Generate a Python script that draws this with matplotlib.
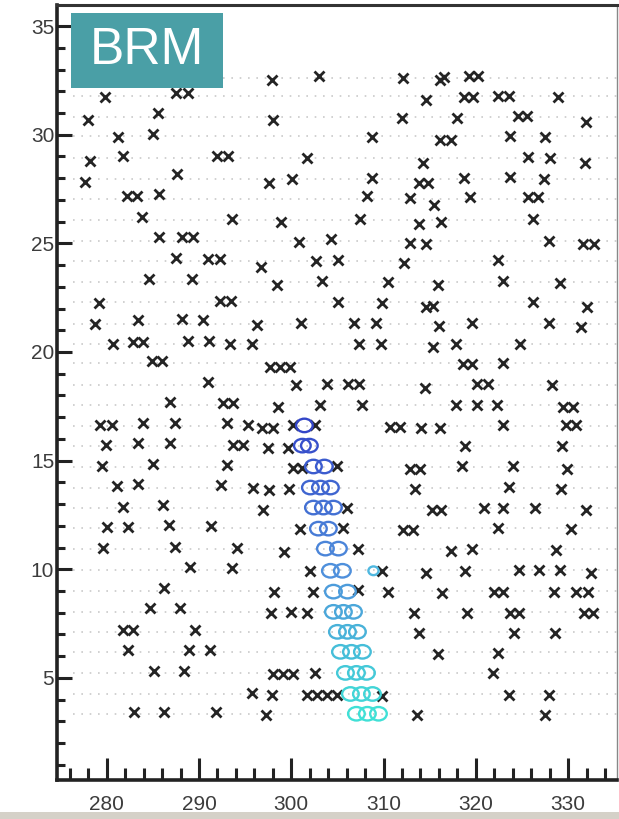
import matplotlib.pyplot as plt
from matplotlib.patches import Ellipse, Rectangle
from matplotlib.colors import LinearSegmentedColormap
from matplotlib.ticker import MultipleLocator

plt.rcParams['font.family'] = ['Liberation Sans', 'DejaVu Sans']

# wire layers (dotted rows)
layer_y = [3.34, 4.26, 5.23, 6.20, 7.12, 8.04, 9.01, 9.98, 10.94, 11.91, 12.83,
           13.76, 14.72, 15.69, 16.61, 17.58, 18.50, 19.47, 20.39, 21.31, 22.28,
           23.20, 24.17, 25.09, 26.06, 27.03, 27.95, 28.92, 29.93, 30.81, 31.77, 32.60]

# noise hits (crosses)
cross_x = [
    297.95, 303.05, 312.16, 316.17, 316.50, 319.21, 320.29,
    287.54, 288.84, 279.84, 314.65, 318.67, 319.75, 322.46, 323.55, 328.86,
    285.59, 277.99, 298.06, 312.05, 317.91, 324.52, 325.50, 331.90,
    281.25, 285.04, 308.80, 316.17, 317.26, 323.66, 327.45,
    278.21, 281.79, 291.98, 293.18, 301.75, 314.33, 325.61, 328.00, 331.79,
    277.67, 287.65, 297.63, 300.12, 308.80, 313.79, 314.87, 318.67, 323.66, 327.34,
    282.22, 283.31, 285.70, 308.26, 312.92, 315.52, 319.32, 325.61, 326.69,
    283.84, 293.61, 298.93, 307.48, 313.88, 316.27, 326.15,
    285.70, 288.19, 289.38, 300.88, 304.35, 312.92, 314.65, 327.89, 331.57, 332.77,
    287.54, 291.01, 292.31, 296.76, 302.72, 305.11, 312.27, 322.46,
    284.61, 289.27, 298.49, 303.37, 310.53, 315.85, 323.00, 329.08,
    279.19, 292.31, 293.50, 305.11, 309.88, 314.55, 315.41, 326.15, 332.01,
    278.75, 283.42, 288.19, 290.47, 296.32, 301.00, 306.85, 309.23, 316.06, 319.54, 327.89, 331.36,
    280.71, 282.88, 283.96, 288.84, 291.12, 293.40, 295.78, 307.39, 309.77, 315.41, 317.80, 324.74,
    284.94, 286.02, 297.73, 298.82, 299.90, 318.56, 319.64, 323.00,
    291.01, 300.55, 303.92, 306.19, 307.39, 314.44, 320.18, 321.27, 328.21,
    286.89, 292.64, 293.72, 298.60, 303.16, 307.71, 317.80, 320.18, 322.35, 329.40, 330.49,
    279.30, 280.60, 283.96, 287.43, 293.07, 295.35, 296.87, 298.06, 300.23, 302.62,
    310.75, 311.83, 314.11, 316.17, 322.90, 329.73, 330.81,
    279.95, 283.42, 286.89, 293.72, 294.81, 297.52, 299.69, 318.88, 329.30,
    279.51, 285.04, 293.07, 300.23, 301.21, 305.00, 312.92, 314.00, 318.45, 323.98, 329.84,
    281.14, 283.42, 292.42, 295.89, 297.63, 299.80, 313.46, 323.55, 329.19,
    281.79, 286.13, 296.98, 306.09, 315.30, 316.28, 320.84, 323.00, 326.37, 331.90,
    280.05, 282.33, 286.78, 291.34, 300.99, 305.65, 312.16, 313.14, 322.46, 330.27,
    279.62, 287.43, 294.15, 299.25, 307.28, 317.26, 319.54, 328.65,
    289.06, 293.61, 302.07, 309.88, 314.55, 318.88, 324.63, 326.80, 329.08, 332.44,
    286.24, 298.17, 302.40, 307.28, 310.53, 316.39, 321.92, 323.00, 328.43, 330.81, 332.12,
    284.72, 287.97, 297.84, 300.01, 301.75, 313.25, 319.10, 323.66, 324.63, 331.68, 332.66,
    281.79, 282.88, 289.60, 313.79, 324.09, 328.54,
    282.33, 288.95, 291.23, 315.85, 322.46,
    285.15, 288.41, 298.06, 299.14, 300.23, 302.62, 321.81,
    295.78, 297.95, 301.75, 302.83, 303.92, 305.00, 309.88, 323.55, 327.89,
    282.98, 286.24, 291.88, 297.30, 313.68, 327.45,
]
cross_y = [
    32.51, 32.70, 32.61, 32.51, 32.65, 32.70, 32.70,
    31.91, 31.91, 31.73, 31.59, 31.73, 31.73, 31.78, 31.78, 31.73,
    30.99, 30.67, 30.67, 30.76, 30.76, 30.85, 30.85, 30.58,
    29.89, 30.03, 29.89, 29.75, 29.75, 29.93, 29.89,
    28.78, 29.01, 29.01, 29.01, 28.92, 28.69, 28.97, 28.92, 28.69,
    27.81, 28.18, 27.77, 27.95, 28.00, 27.77, 27.77, 28.00, 28.04, 27.95,
    27.17, 27.17, 27.26, 27.17, 27.08, 26.75, 27.12, 27.12, 27.12,
    26.20, 26.11, 25.97, 26.11, 25.88, 25.97, 26.11,
    25.28, 25.28, 25.28, 25.05, 25.19, 25.00, 24.96, 25.09, 24.96, 24.96,
    24.31, 24.27, 24.27, 23.90, 24.17, 24.22, 24.08, 24.22,
    23.34, 23.34, 23.07, 23.25, 23.21, 23.07, 23.25, 23.16,
    22.24, 22.33, 22.33, 22.28, 22.24, 22.05, 22.10, 22.28, 22.05,
    21.27, 21.45, 21.50, 21.45, 21.22, 21.32, 21.32, 21.32, 21.18, 21.32, 21.32, 21.13,
    20.39, 20.44, 20.44, 20.49, 20.49, 20.39, 20.35, 20.39, 20.35, 20.21, 20.35, 20.39,
    19.57, 19.57, 19.29, 19.29, 19.29, 19.43, 19.43, 19.47,
    18.60, 18.46, 18.51, 18.51, 18.51, 18.32, 18.51, 18.51, 18.46,
    17.68, 17.63, 17.63, 17.49, 17.58, 17.58, 17.54, 17.58, 17.58, 17.49, 17.49,
    16.66, 16.66, 16.75, 16.75, 16.71, 16.62, 16.48, 16.48, 16.62, 16.62,
    16.57, 16.57, 16.48, 16.48, 16.66, 16.62, 16.62,
    15.74, 15.79, 15.83, 15.74, 15.74, 15.56, 15.60, 15.65, 15.65,
    14.77, 14.86, 14.82, 14.68, 14.68, 14.73, 14.63, 14.63, 14.73, 14.73, 14.63,
    13.85, 13.94, 13.90, 13.76, 13.67, 13.71, 13.71, 13.80, 13.71,
    12.88, 12.98, 12.75, 12.84, 12.75, 12.75, 12.84, 12.84, 12.84, 12.75,
    11.96, 11.96, 12.05, 12.01, 11.87, 11.92, 11.82, 11.82, 11.92, 11.87,
    10.99, 11.04, 10.99, 10.81, 10.95, 10.86, 10.95, 10.90,
    10.12, 10.07, 9.93, 9.93, 9.84, 9.93, 9.98, 9.98, 9.98, 9.84,
    9.15, 8.97, 8.97, 9.06, 8.97, 8.92, 8.97, 8.97, 8.97, 8.97, 8.97,
    8.23, 8.23, 8.00, 8.04, 8.00, 8.00, 8.00, 8.00, 8.00, 8.00, 8.00,
    7.22, 7.22, 7.22, 7.08, 7.08, 7.08,
    6.29, 6.29, 6.29, 6.11, 6.16,
    5.33, 5.33, 5.19, 5.19, 5.19, 5.23, 5.23,
    4.31, 4.22, 4.22, 4.22, 4.22, 4.22, 4.17, 4.22, 4.22,
    3.44, 3.44, 3.44, 3.30, 3.30, 3.30,
]

# track hits (drift circles), top to bottom
track_y = [16.62, 15.69, 14.73, 13.76, 12.84, 11.87, 10.95, 9.93, 8.97,
           8.04, 7.12, 6.20, 5.23, 4.26, 3.35]
track_x = [
    [301.42],
    [301.20, 301.96],
    [302.40, 303.59],
    [302.07, 303.16, 304.24],
    [302.40, 303.48, 304.57],
    [302.94, 304.02],
    [303.70, 305.11],
    [304.24, 305.54],
    [304.57, 306.09],
    [304.57, 305.65, 306.74],
    [305.00, 306.09, 307.17],
    [305.33, 306.52, 307.71],
    [305.87, 307.06, 308.15],
    [306.41, 307.60, 308.80],
    [307.06, 308.25, 309.45],
]
stub_x = [308.91]
stub_y = [9.93]

fig = plt.figure(figsize=(6.19, 8.19), dpi=100)
ax = fig.add_axes([0.092, 0.0476, 0.9047, 0.9463])

ax.hlines(layer_y, 276.3, 335.3, colors='#cacaca', linestyles=(0, (1, 4)),
          linewidth=1.2, zorder=1)

ax.plot(cross_x, cross_y, 'x', color='#242424', ms=6.8, mew=2.0, zorder=3)

cmap = LinearSegmentedColormap.from_list('trk', ['#3346c8', '#4f90dc', '#40e0d6'])
n = len(track_y)
for i, (yy, xs) in enumerate(zip(track_y, track_x)):
    c = cmap(i / (n - 1))
    for xx in xs:
        ax.add_patch(Ellipse((xx, yy), 1.8, 0.62, fill=False, ec=c, lw=1.7, zorder=4))
for xx, yy in zip(stub_x, stub_y):
    ax.add_patch(Ellipse((xx, yy), 1.1, 0.4, fill=False, ec='#4fb8e0', lw=1.7, zorder=4))

ax.set_xlim(274.6, 335.3)
ax.set_ylim(0.3, 35.97)

ax.xaxis.set_major_locator(MultipleLocator(10))
ax.xaxis.set_minor_locator(MultipleLocator(2))
ax.yaxis.set_major_locator(MultipleLocator(5))
ax.yaxis.set_minor_locator(MultipleLocator(1))
ax.tick_params(axis='both', which='both', direction='in', top=False, right=False,
               colors='#222222', labelcolor='#3c3c3c', labelsize=15)
ax.tick_params(axis='x', which='major', length=16, width=2.2, pad=11)
ax.tick_params(axis='x', which='minor', length=8.5, width=2.2)
ax.tick_params(axis='y', which='major', length=11, width=2.2, pad=2)
ax.tick_params(axis='y', which='minor', length=6, width=2.2)

for side in ['left', 'bottom']:
    ax.spines[side].set_linewidth(2.6)
    ax.spines[side].set_color('#222222')
ax.spines['top'].set_linewidth(2.2)
ax.spines['top'].set_color('#333333')
ax.spines['right'].set_linewidth(1.0)
ax.spines['right'].set_color('#888888')

# label box
ax.add_patch(Rectangle((0.025, 0.893), 0.271, 0.097, transform=ax.transAxes,
                       facecolor='#4a9fa6', edgecolor='none', zorder=5))
ax.text(0.1607, 0.9413, 'BRM', transform=ax.transAxes, color='white', fontsize=37,
        ha='center', va='center', zorder=6)

fig.patches.append(Rectangle((0, 0), 1, 7 / 819, transform=fig.transFigure,
                             facecolor='#d5d1c8', edgecolor='none'))

fig.savefig('out.png', dpi=100)
